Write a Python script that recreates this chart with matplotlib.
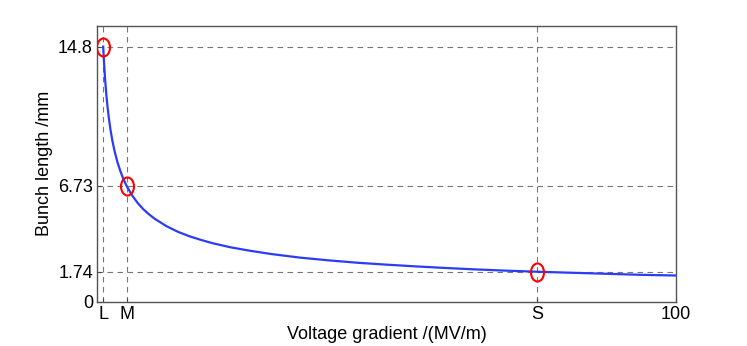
import matplotlib.pyplot as plt
import numpy as np
from matplotlib.path import Path

plt.rcParams['font.family'] = ['Liberation Sans', 'DejaVu Sans']

# Curve: voltage gradient (MV/m) vs bunch length (mm)
gradient = [1.05, 1.2, 1.4, 1.6, 1.8, 2.0, 2.3, 2.6, 3.0, 3.5, 4.0, 4.5, 5.08,
            6, 7, 8, 9, 10, 12, 14, 16, 18, 20, 23, 26, 30, 35, 40, 45, 50,
            55, 60, 65, 70, 76, 82, 88, 94, 100]
bunch_len = [14.80, 13.85, 12.82, 11.99, 11.31, 10.73, 10.00, 9.41, 8.76, 8.11,
             7.59, 7.15, 6.73, 6.19, 5.73, 5.36, 5.06, 4.80, 4.38, 4.05, 3.79,
             3.58, 3.39, 3.16, 2.98, 2.77, 2.56, 2.40, 2.26, 2.15, 2.05, 1.96,
             1.88, 1.81, 1.74, 1.68, 1.62, 1.56, 1.52]

# marked operating points L, M, S
mark_x = [1.05, 5.08, 76]
mark_y = [14.8, 6.73, 1.74]
xtick_labels = ['L', 'M', 'S', '100']
ytick_vals = [0, 1.74, 6.73, 14.8]
ytick_labels = ['0', '1.74', '6.73', '14.8']

fig = plt.figure(figsize=(7.47, 3.46), dpi=100)
ax = fig.add_axes([0.130, 0.128, 0.775, 0.797])

ax.plot(gradient, bunch_len, color='#2a3cf5', linewidth=1.6, zorder=3)

# tall ellipse marker
circ = Path.unit_circle()
ell = Path(circ.vertices * np.array([0.72, 1.0]), circ.codes)
ax.plot(mark_x, mark_y, linestyle='none', marker=ell, markersize=13,
        markerfacecolor='none', markeredgecolor='red', markeredgewidth=1.5,
        zorder=4)

ax.set_xlim(0, 100)
ax.set_ylim(0, 16)
ax.set_xticks(mark_x + [100])
ax.set_xticklabels(xtick_labels)
ax.set_yticks(ytick_vals)
ax.set_yticklabels(ytick_labels)
ax.tick_params(direction='in', length=3, labelsize=13, colors='#444444',
               labelcolor='black', pad=3)

# dashed guide lines at the marked points
for xv in mark_x:
    ax.axvline(xv, color='#777777', linestyle=(0, (5, 4)), linewidth=0.8, zorder=1)
for yv in mark_y:
    ax.axhline(yv, color='#777777', linestyle=(0, (5, 4)), linewidth=0.8, zorder=1)

for sp in ax.spines.values():
    sp.set_color('#555555')
    sp.set_linewidth(1.0)

ax.set_xlabel('Voltage gradient /(MV/m)', fontsize=13, labelpad=2)
ax.set_ylabel('Bunch length /mm', fontsize=13, labelpad=4)

fig.savefig('out.png', dpi=100)
